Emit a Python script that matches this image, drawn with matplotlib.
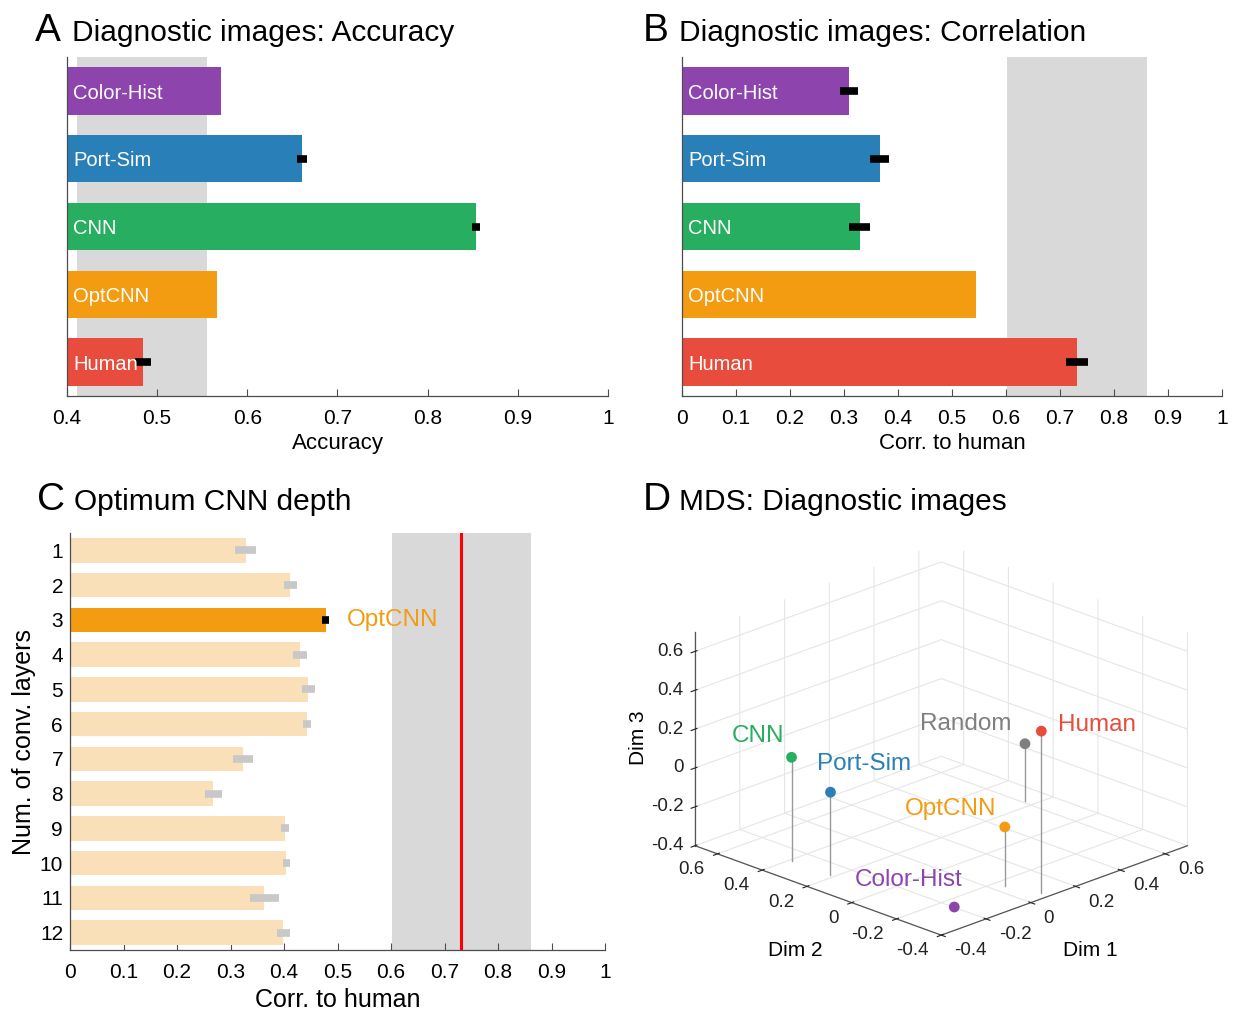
import numpy as np
import matplotlib.pyplot as plt
from matplotlib.ticker import FuncFormatter
from matplotlib.transforms import offset_copy

# data
models = ['Color-Hist', 'Port-Sim', 'CNN', 'OptCNN', 'Human']
model_colors = ['#8e44ad', '#2980b9', '#27ae60', '#f39c12', '#e74c3c']

accuracy = [0.571, 0.661, 0.854, 0.566, 0.484]
accuracy_err = [None, 0.0055, 0.0045, None, 0.009]
accuracy_band = (0.411, 0.555)

corr_human = [0.309, 0.366, 0.329, 0.544, 0.731]
corr_human_err = [0.017, 0.017, 0.02, None, 0.02]
noise_ceiling = (0.602, 0.861)

n_layers = list(range(1, 13))
depth_corr = [0.328, 0.412, 0.478, 0.429, 0.445, 0.443, 0.323, 0.268, 0.402, 0.404, 0.363, 0.399]
depth_err = [0.0205, 0.0125, 0.0065, 0.013, 0.012, 0.007, 0.019, 0.0155, 0.0075, 0.0065, 0.027, 0.0115]
opt_depth = 3
human_human = 0.731

mds_names = ['CNN', 'Port-Sim', 'Random', 'Human', 'OptCNN', 'Color-Hist']
mds_colors = ['#27ae60', '#2980b9', '#7f7f7f', '#e74c3c', '#f39c12', '#8e44ad']
dim1 = [-0.279, -0.275, 0.614, 0.085, 0.043, -0.198]
dim2 = [0.39, 0.22, 0.24, -0.362, -0.241, -0.256]
dim3 = [0.134, 0.024, -0.107, 0.431, -0.095, -0.4]
mds_lim = (-0.4, 0.7)
mds_ticks = [-0.4, -0.2, 0, 0.2, 0.4, 0.6]

plt.rcParams['font.family'] = ['Liberation Sans', 'DejaVu Sans']
plt.rcParams['axes.unicode_minus'] = False
plt.rcParams['grid.color'] = '#e6e6e6'
plt.rcParams['grid.linewidth'] = 0.8

AX_COL = '#4d4d4d'
fmt = FuncFormatter(lambda v, p: '%g' % round(v, 3))


def style_axes(ax):
    for s in ['top', 'right']:
        ax.spines[s].set_visible(False)
    for s in ['left', 'bottom']:
        ax.spines[s].set_color(AX_COL)
        ax.spines[s].set_linewidth(0.9)
    ax.tick_params(direction='in', length=5, color=AX_COL, labelsize=15, pad=9)
    ax.tick_params(axis='y', pad=5)
    ax.xaxis.set_major_formatter(fmt)


def model_bars(ax, vals, errs, band, x0, xlabel):
    y = np.arange(1, len(vals) + 1)
    ax.axvspan(band[0], band[1], color='#d9d9d9', lw=0, zorder=0)
    ax.barh(y, np.array(vals) - x0, left=x0, height=0.7, color=model_colors, zorder=2)
    for yi, v, e in zip(y, vals, errs):
        if e is not None:
            ax.errorbar(v, yi, xerr=e, fmt='none', ecolor='black', elinewidth=5.5, capsize=0, zorder=3)
    for yi, name in zip(y, models):
        ax.annotate(name, (x0, yi), xytext=(4.5, -1.5), textcoords='offset points',
                    color='white', fontsize=14.5, va='center', ha='left', zorder=4)
    ax.set_ylim(len(vals) + 0.5, 0.5)
    ax.set_yticks([])
    ax.set_xlim(x0, 1)
    ax.set_xticks(np.arange(x0, 1.0001, 0.1))
    ax.set_xlabel(xlabel, fontsize=16, labelpad=4)
    style_axes(ax)


fig = plt.figure(figsize=(12.33, 10.11), dpi=100)

# panel titles
def panel_title(x, y, letter, text):
    fig.text(x, y, letter, fontsize=28, va='center', ha='left')
    fig.text(x + 0.03, y - 0.002, text, fontsize=21.5, va='center', ha='left')

panel_title(0.028, 0.969, 'A', 'Diagnostic images: Accuracy')
panel_title(0.521, 0.969, 'B', 'Diagnostic images: Correlation')
panel_title(0.030, 0.505, 'C', 'Optimum CNN depth')
panel_title(0.521, 0.505, 'D', 'MDS: Diagnostic images')

# A
axA = fig.add_axes([0.0543, 0.6083, 0.4388, 0.3353])
model_bars(axA, accuracy, accuracy_err, accuracy_band, 0.4, 'Accuracy')

# B
axB = fig.add_axes([0.5531, 0.6083, 0.4380, 0.3353])
model_bars(axB, corr_human, corr_human_err, noise_ceiling, 0.0, 'Corr. to human')

# C
axC = fig.add_axes([0.0568, 0.0603, 0.4339, 0.4125])
axC.axvspan(noise_ceiling[0], noise_ceiling[1], color='#d9d9d9', lw=0, zorder=0)
bar_cols = ['#f39c12' if n == opt_depth else '#fae0b8' for n in n_layers]
err_cols = ['black' if n == opt_depth else '#c8c8c8' for n in n_layers]
axC.barh(n_layers, depth_corr, height=0.7, color=bar_cols, zorder=2)
for n, v, e, c in zip(n_layers, depth_corr, depth_err, err_cols):
    axC.errorbar(v, n, xerr=e, fmt='none', ecolor=c, elinewidth=5.5, capsize=0, zorder=3)
axC.axvline(human_human, color='#ff0000', lw=2.2, zorder=4)
i_opt = n_layers.index(opt_depth)
axC.annotate('OptCNN', (depth_corr[i_opt], opt_depth), xytext=(15, 0), textcoords='offset points',
             color='#f39c12', fontsize=17.5, va='center', ha='left')
axC.set_ylim(12.5, 0.5)
axC.set_yticks(n_layers)
axC.set_xlim(0, 1)
axC.set_xticks(np.arange(0, 1.0001, 0.1))
style_axes(axC)
axC.set_xlabel('Corr. to human', fontsize=18, labelpad=5)
axC.set_ylabel('Num. of conv. layers', fontsize=18, labelpad=2.5)

# D
axD = fig.add_axes([0.5233, 0.033, 0.47, 0.46], projection='3d')
axD.set_proj_type('ortho')
axD.view_init(elev=21.3, azim=-135)
axD.set_xlim(*mds_lim)
axD.set_ylim(*mds_lim)
axD.set_zlim(*mds_lim)
axD.set_box_aspect((1, 1, 0.659), zoom=1.134)
tick_txt = ['%g' % t for t in mds_ticks]
axD.set_xticks(mds_ticks, labels=tick_txt, ha='left', va='center')
axD.set_yticks(mds_ticks, labels=tick_txt, ha='right', va='center')
axD.set_zticks(mds_ticks, labels=tick_txt, ha='right', va='center')
for axis in [axD.xaxis, axD.yaxis, axD.zaxis]:
    axis.set_pane_color((1, 1, 1, 0))
    axis.pane.set_edgecolor('#e6e6e6')
    axis.line.set_color('#555555')
    axis.line.set_linewidth(0.9)
axD.tick_params(labelsize=13.5, colors='#222222')
axD.xaxis.set_tick_params(pad=1)
axD.yaxis.set_tick_params(pad=1)
axD.zaxis.set_tick_params(pad=-4)
zbase = mds_lim[0]
label_off = {'CNN': (-7, 21, 'right'), 'Port-Sim': (-13, 28, 'left'), 'Random': (-13, 20, 'right'),
             'Human': (17, 6, 'left'), 'OptCNN': (-8, 18, 'right'), 'Color-Hist': (-46, 27, 'center')}
for name, c, x, y, z in zip(mds_names, mds_colors, dim1, dim2, dim3):
    axD.plot([x, x], [y, y], [zbase, z], color='#999999', lw=1)
    axD.scatter([x], [y], [z], color=c, s=60, depthshade=False, edgecolors='none')
    dx, dy, ha = label_off[name]
    tr = offset_copy(axD.transData, fig=fig, x=dx, y=dy, units='dots')
    axD.text(x, y, z, name, color=c, fontsize=17.5, ha=ha, va='center', transform=tr)
fig.text(795 / 1233, 1 - 950 / 1011, 'Dim 2', fontsize=15, ha='center', va='center')
fig.text(1090 / 1233, 1 - 950 / 1011, 'Dim 1', fontsize=15, ha='center', va='center')
fig.text(638 / 1233, 1 - 738 / 1011, 'Dim 3', fontsize=15, ha='center', va='center', rotation=90)

fig.savefig('out.png', dpi=100)
